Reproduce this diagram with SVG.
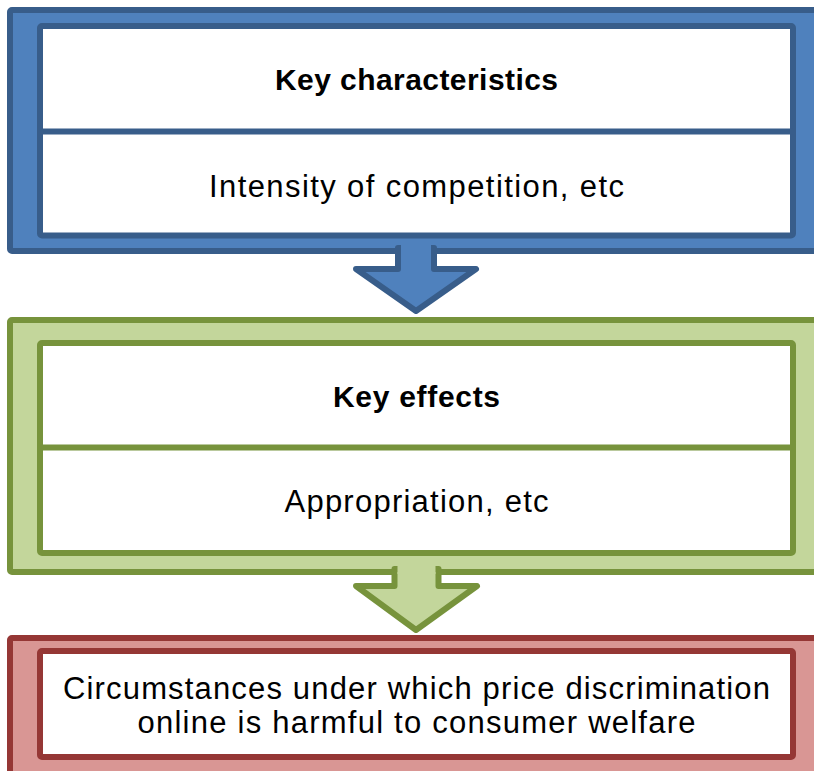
<svg xmlns="http://www.w3.org/2000/svg" width="814" height="771" viewBox="0 0 814 771">
  <style>
    .txt { font-family: "Liberation Sans", Arial, sans-serif; font-size: 31px; fill: #000; text-anchor: middle; }
    .b { font-weight: bold; font-size: 30px; }
    .inner { fill: #fff; stroke-width: 6; }
    .outer { stroke-width: 6; }
    .blue-o { fill: #4F81BD; stroke: #385D8A; }
    .blue-s { stroke: #385D8A; }
    .green-o { fill: #C3D69B; stroke: #77933C; }
    .green-s { stroke: #77933C; }
    .red-o { fill: #D99694; stroke: #953735; }
    .red-s { stroke: #953735; }
  </style>

  <!-- Stage 1: key characteristics -->
  <g id="stage-characteristics">
    <rect class="outer blue-o" x="10" y="10" width="830" height="241" rx="2"/>
    <rect class="inner blue-s" x="40" y="26" width="753" height="209.5" rx="2"/>
    <line class="blue-s" x1="40" y1="131.5" x2="793" y2="131.5" stroke-width="6"/>
    <text class="txt b" x="416.5" y="90" textLength="283" lengthAdjust="spacing">Key characteristics</text>
    <text class="txt" x="416.5" y="197" textLength="415" lengthAdjust="spacing">Intensity of competition, etc</text>
  </g>

  <!-- Stage 2: key effects -->
  <g id="stage-effects">
    <rect class="outer green-o" x="10" y="320" width="830" height="252" rx="2"/>
    <rect class="inner green-s" x="40" y="343" width="753" height="210" rx="2"/>
    <line class="green-s" x1="40" y1="447.5" x2="793" y2="447.5" stroke-width="6"/>
    <text class="txt b" x="416.5" y="407" textLength="167" lengthAdjust="spacing">Key effects</text>
    <text class="txt" x="416.5" y="512" textLength="264" lengthAdjust="spacing">Appropriation, etc</text>
  </g>

  <!-- Stage 3: outcome -->
  <g id="stage-outcome">
    <rect class="outer red-o" x="10" y="638" width="830" height="140" rx="2"/>
    <rect class="inner red-s" x="40" y="651" width="753" height="106" rx="2"/>
    <text class="txt" x="416.5" y="699" textLength="707" lengthAdjust="spacing">Circumstances under which price discrimination</text>
    <text class="txt" x="416.5" y="733" textLength="558" lengthAdjust="spacing">online is harmful to consumer welfare</text>
  </g>

  <!-- Connectors: block arrows leading out of each stage -->
  <g id="connectors">
    <g id="arrow-1">
      <polygon points="398,248 398,269 356,269 416,311 476,269 434,269 434,248" fill="#4F81BD" stroke="#385D8A" stroke-width="6" stroke-linejoin="round"/>
      <rect x="401" y="244" width="30" height="9" fill="#4F81BD"/>
    </g>
    <g id="arrow-2">
      <polygon points="394.5,569 394.5,586 356,586 416,630 477,586 438.5,586 438.5,569" fill="#C3D69B" stroke="#77933C" stroke-width="6" stroke-linejoin="round"/>
      <rect x="397.5" y="565" width="38" height="9" fill="#C3D69B"/>
    </g>
  </g>
</svg>
